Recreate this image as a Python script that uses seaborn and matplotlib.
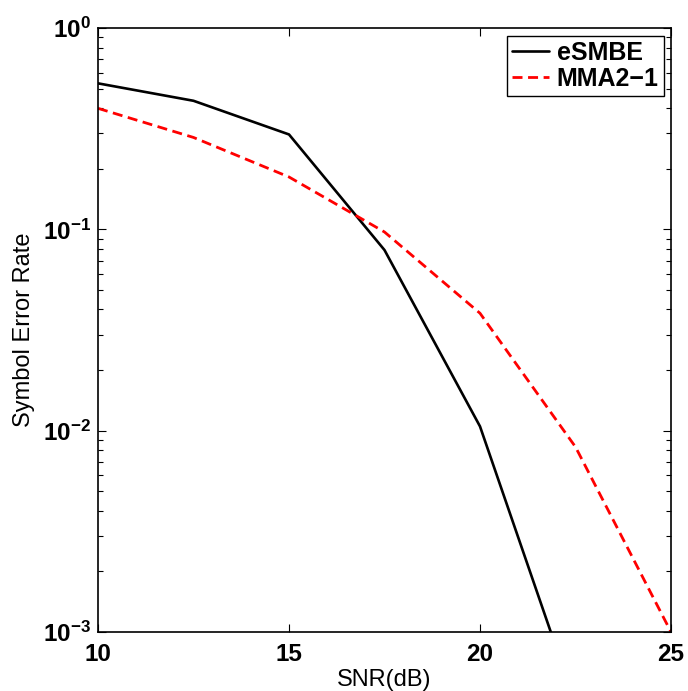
import matplotlib
matplotlib.use("Agg")
import matplotlib.pyplot as plt
import seaborn as sns
import numpy as np
import pandas as pd
from matplotlib.ticker import LogLocator, FixedLocator, FixedFormatter, NullFormatter

snr_esmbe = [10, 12.5, 15, 17.5, 20, 22.5]
ser_esmbe = [0.531, 0.435, 0.296, 0.0789, 0.0105, 0.00044]
snr_mma = [10, 12.5, 15, 17.5, 20, 22.5, 25]
ser_mma = [0.399, 0.286, 0.182, 0.097, 0.0383, 0.0083, 0.001]

x_ticks = [10, 15, 20, 25]
y_ticks = [1e-3, 1e-2, 1e-1, 1e0]
y_tick_labels = [r"$\mathbf{10^{-3}}$", r"$\mathbf{10^{-2}}$", r"$\mathbf{10^{-1}}$", r"$\mathbf{10^{0}}$"]

sns.set_style("ticks")
plt.rcParams["font.family"] = ["Liberation Sans", "DejaVu Sans"]
plt.rcParams["mathtext.fontset"] = "custom"
plt.rcParams["mathtext.rm"] = "Liberation Sans"
plt.rcParams["mathtext.bf"] = "Liberation Sans:bold"
plt.rcParams["mathtext.default"] = "bf"
plt.rcParams["text.color"] = "black"
plt.rcParams["axes.labelcolor"] = "black"
plt.rcParams["xtick.color"] = "black"
plt.rcParams["ytick.color"] = "black"

fig = plt.figure(figsize=(6.88, 6.91), dpi=100)
ax = fig.add_axes([98/688, 1-632/691, (671-98)/688, (632-28)/691])

df1 = pd.DataFrame({"SNR": snr_esmbe, "SER": ser_esmbe})
df2 = pd.DataFrame({"SNR": snr_mma, "SER": ser_mma})
sns.lineplot(data=df1, x="SNR", y="SER", ax=ax, color="black", linewidth=1.9,
             label="eSMBE", estimator=None, sort=False)
sns.lineplot(data=df2, x="SNR", y="SER", ax=ax, color="#ff0000", linewidth=2.0,
             label="MMA2\u22121", estimator=None, sort=False, dashes=False)
ax.lines[1].set_dashes([3.6, 2.0])
ax.lines[1].set_dash_capstyle("butt")

ax.set_yscale("log")
ax.set_xlim(10, 25)
ax.set_ylim(1e-3, 1)
ax.xaxis.set_major_locator(FixedLocator(x_ticks))
ax.set_xticklabels([str(t) for t in x_ticks], fontweight="bold", fontsize=17.5)
ax.yaxis.set_major_locator(FixedLocator(y_ticks))
ax.yaxis.set_major_formatter(FixedFormatter(y_tick_labels))
ax.yaxis.set_minor_locator(LogLocator(base=10, subs=np.arange(2, 10), numticks=20))
ax.yaxis.set_minor_formatter(NullFormatter())
for lab in ax.get_yticklabels():
    lab.set_fontsize(17.5)

ax.tick_params(which="both", direction="in", top=True, right=True, width=0.8)
ax.tick_params(which="major", length=6)
ax.tick_params(axis="x", which="major", pad=8)
ax.tick_params(axis="y", which="major", pad=5)
ax.tick_params(which="minor", length=3.5)
for s in ax.spines.values():
    s.set_linewidth(1.2)
    s.set_color("black")

ax.set_xlabel("SNR(dB)", fontsize=17, labelpad=2)
ax.set_ylabel("Symbol Error Rate", fontsize=17, labelpad=6)

leg = ax.legend(loc="upper right", prop={"weight": "bold", "size": 18},
                frameon=True, fancybox=False, edgecolor="black", framealpha=1,
                handlelength=1.5, handletextpad=0.3, borderpad=0.2,
                labelspacing=0.1, borderaxespad=0.3)
leg.get_frame().set_linewidth(1.0)

fig.savefig("out.png", dpi=100)
